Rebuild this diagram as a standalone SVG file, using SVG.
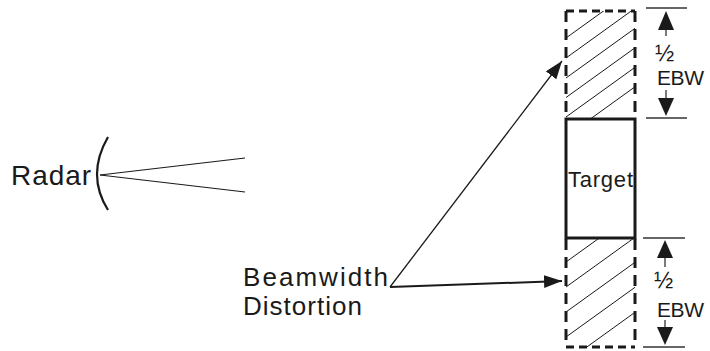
<svg xmlns="http://www.w3.org/2000/svg" width="710" height="351" viewBox="0 0 710 351">
<style>
  text { font-family: "Liberation Sans", Arial, sans-serif; fill: #1a1a1a; }
  .hatch { stroke: #1a1a1a; stroke-width: 1; fill: none; }
  .dimline { stroke: #333; stroke-width: 1.3; }
  .head { fill: #1a1a1a; }
  .conn { stroke: #1a1a1a; fill: none; }
  .dashv { stroke: #1a1a1a; stroke-width: 3; stroke-dasharray: 11 7; }
  .dashh { stroke: #1a1a1a; stroke-width: 3; stroke-dasharray: 8 5; }
  .half { font-size: 23px; }
</style>
<defs>
  <marker id="arrow" markerUnits="userSpaceOnUse" markerWidth="20" markerHeight="14" refX="18" refY="6.5" orient="auto">
    <path d="M0,0 L18,6.5 L0,13 z" fill="#1a1a1a"/>
  </marker>
  <clipPath id="clipUpper"><rect x="566" y="11" width="69" height="107"/></clipPath>
  <clipPath id="clipLower"><rect x="566" y="239" width="69" height="108"/></clipPath>
</defs>
<rect width="710" height="351" fill="#ffffff"/>

<g id="radar">
  <path d="M108,137 Q86,175 108,210" fill="none" stroke="#1a1a1a" stroke-width="2.2"/>
  <line x1="100" y1="175" x2="245" y2="158" stroke="#1a1a1a" stroke-width="1.2"/>
  <line x1="100" y1="175" x2="245" y2="192" stroke="#1a1a1a" stroke-width="1.2"/>
  <text x="11" y="185" font-size="28" textLength="80" lengthAdjust="spacing">Radar</text>
</g>

<g id="beamwidth-distortion">
  <text x="243" y="286" font-size="26" textLength="145" lengthAdjust="spacing">Beamwidth</text>
  <text x="243" y="315" font-size="26" textLength="119" lengthAdjust="spacing">Distortion</text>
</g>

<g id="upper-region">
  <g clip-path="url(#clipUpper)">
    <line class="hatch" x1="566" y1="38" x2="635" y2="-11.7"/>
    <line class="hatch" x1="566" y1="58" x2="635" y2="8.3"/>
    <line class="hatch" x1="566" y1="78" x2="635" y2="28.3"/>
    <line class="hatch" x1="566" y1="97.5" x2="635" y2="47.8"/>
    <line class="hatch" x1="566" y1="117" x2="635" y2="67.3"/>
    <line class="hatch" x1="566" y1="136.5" x2="635" y2="86.8"/>
  </g>
  <line class="dashh" x1="566" y1="11" x2="635" y2="11"/>
  <line class="dashv" x1="566" y1="11" x2="566" y2="118"/>
  <line class="dashv" x1="635" y1="11" x2="635" y2="118"/>
</g>

<g id="lower-region">
  <g clip-path="url(#clipLower)">
    <line class="hatch" x1="566" y1="262" x2="635" y2="212.3"/>
    <line class="hatch" x1="566" y1="287" x2="635" y2="237.3"/>
    <line class="hatch" x1="566" y1="312" x2="635" y2="262.3"/>
    <line class="hatch" x1="566" y1="337" x2="635" y2="287.3"/>
    <line class="hatch" x1="566" y1="362" x2="635" y2="312.3"/>
  </g>
  <line class="dashh" x1="566" y1="347" x2="635" y2="347"/>
  <line class="dashv" x1="566" y1="239" x2="566" y2="347"/>
  <line class="dashv" x1="635" y1="239" x2="635" y2="347"/>
</g>

<g id="target">
  <rect x="566" y="119" width="69" height="119" fill="#ffffff" stroke="#1a1a1a" stroke-width="3"/>
  <text x="568" y="187" font-size="22" textLength="65" lengthAdjust="spacing">Target</text>
</g>

<g id="ebw-upper">
  <line class="dimline" x1="646" y1="8" x2="687" y2="8"/>
  <line class="dimline" x1="646" y1="118" x2="687" y2="118"/>
  <polygon class="head" points="666,11 674,30 658,30"/>
  <line class="dimline" x1="666" y1="30" x2="666" y2="36"/>
  <line class="dimline" x1="666" y1="90" x2="666" y2="98"/>
  <polygon class="head" points="658,98 674,98 666,116"/>
  <text class="half" x="655" y="61">½</text>
  <text x="657" y="85" font-size="21" textLength="47" lengthAdjust="spacing">EBW</text>
</g>

<g id="ebw-lower">
  <line class="dimline" x1="643" y1="238" x2="685" y2="238"/>
  <line class="dimline" x1="643" y1="347" x2="685" y2="347"/>
  <polygon class="head" points="665,240 673,258 657,258"/>
  <line class="dimline" x1="665" y1="258" x2="665" y2="267"/>
  <line class="dimline" x1="665" y1="320" x2="665" y2="327"/>
  <polygon class="head" points="657,327 673,327 665,345"/>
  <text class="half" x="654" y="288">½</text>
  <text x="657" y="317" font-size="21" textLength="47" lengthAdjust="spacing">EBW</text>
</g>

<g id="connectors">
  <line class="conn" stroke-width="1.3" x1="390" y1="287" x2="562" y2="61" marker-end="url(#arrow)"/>
  <line class="conn" stroke-width="2" x1="390" y1="287" x2="562" y2="281" marker-end="url(#arrow)"/>
</g>
</svg>
